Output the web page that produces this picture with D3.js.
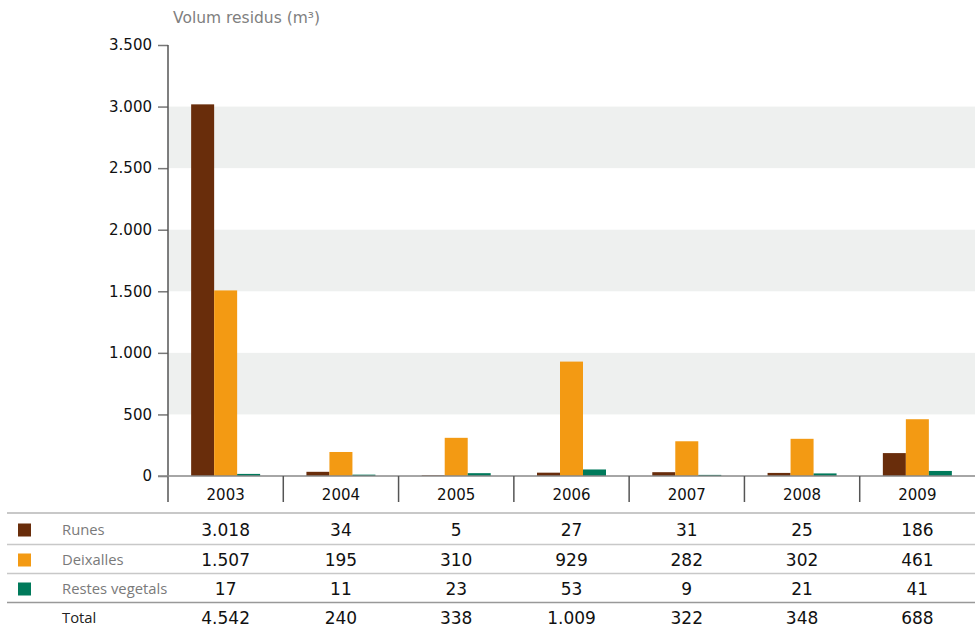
<!DOCTYPE html>
<html>
<head>
<meta charset="utf-8">
<script src="https://cdn.jsdelivr.net/npm/d3@7"></script>
<style>
  html, body { margin: 0; padding: 0; background: #fff; }
  svg { display: block; font-family: "Open Sans", "Noto Sans", sans-serif; }
  .num { font-family: "DejaVu Sans", sans-serif; }
</style>
</head>
<body>
<svg id="chart" width="975" height="632"></svg>
<script>
// Waste volumes collected per year (m³)
const years = ["2003", "2004", "2005", "2006", "2007", "2008", "2009"];
const seriesNames = ["Runes", "Deixalles", "Restes vegetals"];
const runes = [3018, 34, 5, 27, 31, 25, 186];
const deixalles = [1507, 195, 310, 929, 282, 302, 461];
const restesVegetals = [17, 11, 23, 53, 9, 21, 41];
const totals = [4542, 240, 338, 1009, 322, 348, 688];
const yTicks = [0, 500, 1000, 1500, 2000, 2500, 3000, 3500];
const colors = ["#692d0b", "#f39a13", "#007a5b"];

const seriesValues = [runes, deixalles, restesVegetals];

// Catalan-style number formatting: dot as thousands separator
const locale = d3.formatLocale({ decimal: ",", thousands: ".", grouping: [3], currency: ["", "€"] });
const fmt = locale.format(",d");

const svg = d3.select("#chart");
const W = 975;
const plotLeft = 168, plotRight = 975;
const plotTop = 45, plotBottom = 476;
const groupWidth = 69;

const x = d3.scaleBand().domain(years).range([plotLeft, plotRight]);
// each year's three bars sit side by side, centred in the column
const xInner = d3.scaleBand().domain(seriesNames)
  .range([(x.bandwidth() - groupWidth) / 2, (x.bandwidth() + groupWidth) / 2]);
const y = d3.scaleLinear().domain([0, 3500]).range([plotBottom, plotTop]);

// Alternating background bands
const bands = [[500, 1000], [1500, 2000], [2500, 3000]];
svg.append("g").selectAll("rect").data(bands).join("rect")
  .attr("x", plotLeft).attr("width", plotRight - plotLeft)
  .attr("y", d => y(d[1])).attr("height", d => y(d[0]) - y(d[1]))
  .attr("fill", "#eef0ef");

// Title
svg.append("text").attr("class", "num").attr("x", 173).attr("y", 23)
  .attr("font-size", 15.5).attr("fill", "#808080")
  .text("Volum residus (m³)");

// Bars
const groups = svg.append("g").selectAll("g").data(years).join("g")
  .attr("transform", d => `translate(${x(d)},0)`);
groups.selectAll("rect").data((d, i) => seriesNames.map((s, k) => ({ s, k, v: seriesValues[k][i] })))
  .join("rect")
  .attr("x", d => xInner(d.s))
  .attr("width", xInner.bandwidth())
  .attr("y", d => y(d.v))
  .attr("height", d => y(0) - y(d.v))
  .attr("fill", d => colors[d.k]);

// Y axis
const yAxis = d3.axisLeft(y).tickValues(yTicks).tickSize(10).tickPadding(6)
  .tickFormat(d => fmt(d));
const gy = svg.append("g").attr("transform", `translate(${plotLeft},0)`).call(yAxis);
gy.select(".domain").remove();
gy.selectAll(".tick line").attr("stroke", "#777").attr("stroke-width", 1.5);
gy.selectAll(".tick text").attr("class", "num").attr("font-size", 15).attr("fill", "#111")
  .attr("font-family", null);
svg.append("line").attr("x1", plotLeft).attr("x2", plotLeft).attr("y1", plotTop).attr("y2", 502)
  .attr("stroke", "#555").attr("stroke-width", 1.5);

// Baseline
svg.append("line").attr("x1", 158).attr("x2", plotRight).attr("y1", plotBottom).attr("y2", plotBottom)
  .attr("stroke", "#888").attr("stroke-width", 1.5);

// Column separators and year labels
const xAxis = d3.axisBottom(x).tickSize(0).tickPadding(13);
const gx = svg.append("g").attr("transform", `translate(0,${plotBottom})`).call(xAxis);
gx.select(".domain").remove();
gx.selectAll(".tick text").attr("class", "num").attr("font-size", 15).attr("fill", "#111")
  .attr("font-family", null);
svg.append("g").selectAll("line").data(years.slice(1)).join("line")
  .attr("x1", d => x(d)).attr("x2", d => x(d))
  .attr("y1", plotBottom).attr("y2", 502)
  .attr("stroke", "#555").attr("stroke-width", 1.5);

// Data table
const rowLines = [
  { y: 513, c: "#c8c8c8", w: 2 },
  { y: 544.5, c: "#c8c8c8", w: 1.5 },
  { y: 573.5, c: "#c8c8c8", w: 1.5 },
  { y: 602.5, c: "#999", w: 1.5 }
];
svg.append("g").selectAll("line").data(rowLines).join("line")
  .attr("x1", 7).attr("x2", W).attr("y1", d => d.y).attr("y2", d => d.y)
  .attr("stroke", d => d.c).attr("stroke-width", d => d.w);

const rows = [
  { name: "Runes", values: runes, color: colors[0], y: 530 },
  { name: "Deixalles", values: deixalles, color: colors[1], y: 560 },
  { name: "Restes vegetals", values: restesVegetals, color: colors[2], y: 589 },
  { name: "Total", values: totals, color: null, y: 618 }
];
const rowG = svg.append("g").selectAll("g").data(rows).join("g");
rowG.filter(d => d.color).append("rect")
  .attr("x", 18).attr("y", d => d.y - 6.5).attr("width", 13).attr("height", 13)
  .attr("fill", d => d.color);
rowG.append("text")
  .attr("x", 62).attr("y", d => d.y).attr("dy", "0.35em")
  .attr("font-size", 14.8)
  .attr("fill", d => d.color ? "#7a7a7a" : "#222")
  .text(d => d.name);
rowG.selectAll("text.val").data(d => d.values.map((v, i) => ({ v, i, y: d.y })))
  .join("text").attr("class", "val num")
  .attr("x", d => x(years[d.i]) + x.bandwidth() / 2)
  .attr("y", d => d.y).attr("dy", "0.35em")
  .attr("text-anchor", "middle")
  .attr("font-size", 17).attr("fill", "#111")
  .text(d => fmt(d.v));
</script>
</body>
</html>
